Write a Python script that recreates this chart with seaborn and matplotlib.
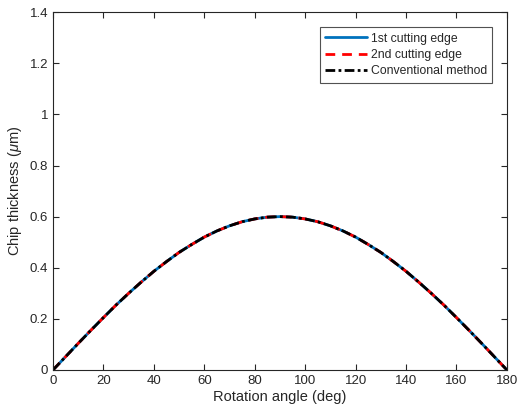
import numpy as np
import pandas as pd
import matplotlib.pyplot as plt
import seaborn as sns

# Values (5 deg steps)
angle = [0, 5, 10, 15, 20, 25, 30, 35, 40, 45, 50, 55, 60, 65, 70, 75, 80, 85, 90,
         95, 100, 105, 110, 115, 120, 125, 130, 135, 140, 145, 150, 155, 160, 165, 170, 175, 180]
thick_edge1 = [0, 0.052, 0.104, 0.155, 0.205, 0.254, 0.300, 0.344, 0.386, 0.424, 0.460, 0.491,
               0.520, 0.544, 0.564, 0.580, 0.591, 0.598, 0.600, 0.598, 0.591, 0.580, 0.564,
               0.544, 0.520, 0.491, 0.460, 0.424, 0.386, 0.344, 0.300, 0.254, 0.205, 0.155,
               0.104, 0.052, 0]
thick_edge2 = list(thick_edge1)
thick_conv = list(thick_edge1)

sns.set_style("white")
plt.rcParams['font.family'] = ['Liberation Sans', 'DejaVu Sans']
plt.rcParams['mathtext.fontset'] = 'custom'
plt.rcParams['mathtext.it'] = 'Liberation Sans:italic'

df = pd.DataFrame({"angle": angle, "e1": thick_edge1, "e2": thick_edge2, "conv": thick_conv})

fig = plt.figure(figsize=(5.17, 4.19), dpi=100)
ax = fig.add_axes([0.1025, 0.117, 0.878, 0.854])

sns.lineplot(data=df, x="angle", y="e1", ax=ax, color="#0072BD", lw=2,
             label="1st cutting edge")
sns.lineplot(data=df, x="angle", y="e2", ax=ax, color="#FF0000", lw=2,
             linestyle=(0, (3.5, 2.5)), label="2nd cutting edge")
sns.lineplot(data=df, x="angle", y="conv", ax=ax, color="black", lw=2,
             linestyle=(0, (3.5, 1.2, 1, 1.2)), label="Conventional method")

ax.set_xlim(0, 180)
ax.set_ylim(0, 1.4)
ax.set_xticks(range(0, 181, 20))
ax.set_yticks([0, 0.2, 0.4, 0.6, 0.8, 1.0, 1.2, 1.4])
ax.set_yticklabels(["0", "0.2", "0.4", "0.6", "0.8", "1", "1.2", "1.4"])
ax.tick_params(direction="in", length=4, width=0.8, labelsize=9.5, colors="#262626",
               top=True, right=True, bottom=True, left=True)
for s in ax.spines.values():
    s.set_color("#262626")
    s.set_linewidth(0.8)
    s.set_visible(True)

ax.set_xlabel("Rotation angle (deg)", fontsize=10.5, color="#262626", labelpad=2)
ax.set_ylabel(r"Chip thickness ($\mu$m)", fontsize=10.5, color="#262626", labelpad=4)

leg = ax.legend(loc="upper right", bbox_to_anchor=(0.968, 0.958), fontsize=8.8,
                frameon=True, fancybox=False, edgecolor="#262626", handlelength=3.4,
                borderpad=0.45, labelspacing=0.35, handletextpad=0.3, borderaxespad=0)
leg.get_frame().set_linewidth(0.8)

fig.savefig("out.png", dpi=100)
